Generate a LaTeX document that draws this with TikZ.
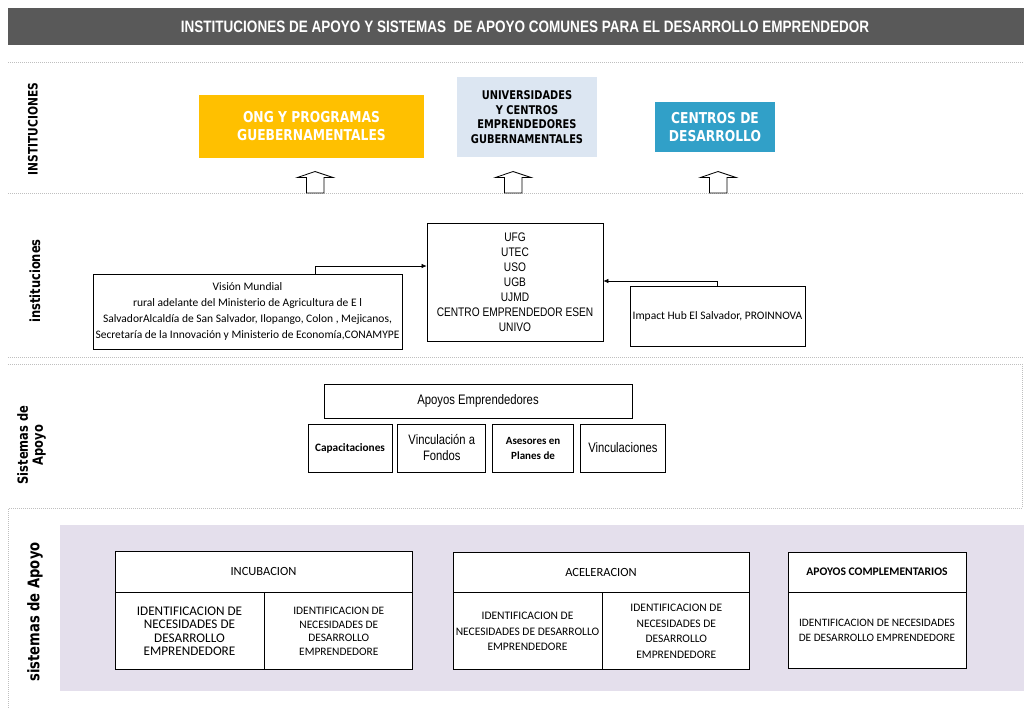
\documentclass[tikz,border=0pt]{standalone}
\usepackage{fontspec}
\setmainfont{Carlito}
\newfontfamily\narrowfont{Liberation Sans}[FakeStretch=0.82]
\newfontfamily\tahomafont{DejaVu Sans}[FakeStretch=0.82]
\usetikzlibrary{positioning,arrows.meta}
\definecolor{barGray}{HTML}{595959}
\definecolor{ongYellow}{HTML}{FFC000}
\definecolor{uniBlue}{HTML}{DCE6F2}
\definecolor{centroBlue}{HTML}{31A0C8}
\definecolor{lavender}{HTML}{E4DFEC}
\definecolor{dotGray}{HTML}{BFBFBF}
\tikzset{InstBox/.style={%
    shape=rectangle,%
    draw=none,%
    align=center,%
    inner sep=0pt,%
}}
\tikzset{ListBox/.style={%
    shape=rectangle,%
    draw=black,%
    fill=white,%
    line width=0.8pt,%
    align=center,%
    inner sep=1pt,%
}}
\tikzset{SideLabel/.style={%
    rotate=90,%
    align=center,%
    inner sep=0pt,%
}}
\tikzset{SectionLine/.style={%
    draw=dotGray,%
    line width=0.8pt,%
    dash pattern=on 1pt off 1pt,%
}}
\tikzset{BlockArrow/.style={%
    draw=black,%
    fill=white,%
    line width=0.8pt,%
}}
\tikzset{LinkEdge/.style={%
    -{Latex[length=5pt,width=4.5pt]},%
    line width=0.6pt,%
}}
\NewDocumentCommand{\fs}{m m}{\fontsize{#1}{#2}\selectfont}
\begin{document}
\begin{tikzpicture}[x=1pt,y=-1pt]
    \useasboundingbox (0,0) rectangle (1024,709);
    % title
    \fill[barGray] (8,8) rectangle (1024,45);
    \node[InstBox, text=white, font=\narrowfont\bfseries\fs{16.5}{18}] (title) at (525,27)
        {INSTITUCIONES DE APOYO Y SISTEMAS \ DE APOYO COMUNES PARA EL DESARROLLO EMPRENDEDOR};

    % section frames
    \draw[SectionLine] (8,62) -- (1024,62);
    \draw[SectionLine] (8,193) -- (1024,193);
    \draw[SectionLine] (8,357) -- (1024,357);
    \draw[SectionLine] (8,364) -- (1022,364) -- (1022,508) -- (8,508);
    \draw[SectionLine] (8,509) -- (8,709);
    \fill[lavender] (60,525) rectangle (1024,691);

    % side labels
    \node[SideLabel, font=\tahomafont\bfseries\fs{13}{15}] (labInst) at (33,129) {INSTITUCIONES};
    \node[SideLabel, font=\tahomafont\bfseries\fs{14}{16}] (labInstLow) at (35,281) {instituciones};
    \node[SideLabel, font=\tahomafont\bfseries\fs{14}{15}] (labSist) at (31.5,445) {Sistemas de\\Apoyo};
    \node[SideLabel, font=\tahomafont\bfseries\fs{16}{18}] (labSistLow) at (35,612) {sistemas de Apoyo};

    % institutions
    \node[InstBox, fill=ongYellow, text=white, minimum width=225, minimum height=63,
        font=\tahomafont\bfseries\fs{15}{18}] (ong) at (311.5,126.5) {ONG Y PROGRAMAS\\GUEBERNAMENTALES};
    \node[InstBox, fill=uniBlue, minimum width=140, minimum height=80,
        font=\tahomafont\bfseries\fs{12}{14.5}] (uni) at (527,117) {UNIVERSIDADES\\Y CENTROS\\EMPRENDEDORES\\GUBERNAMENTALES};
    \node[InstBox, fill=centroBlue, text=white, minimum width=120, minimum height=50,
        font=\tahomafont\bfseries\fs{15}{18}] (cen) at (715,127) {CENTROS DE\\DESARROLLO};
    \foreach \ax in {315,513,718}
        \draw[BlockArrow] (\ax-17.5,177.5) -- (\ax,171.5) -- (\ax+18,177.5) -- (\ax+9,177.5)
            -- (\ax+9,193) -- (\ax-8.5,193) -- (\ax-8.5,177.5) -- cycle;

    \node[ListBox, minimum width=309, minimum height=75, font=\fs{11.5}{16}] (vm) at (247.5,311.5)
        {Visión Mundial\\rural adelante del Ministerio de Agricultura de E l\\SalvadorAlcaldía de San Salvador, Ilopango, Colon , Mejicanos,\\Secretaría de la Innovación y Ministerio de Economía,CONAMYPE};
    \node[ListBox, minimum width=176, minimum height=118, font=\narrowfont\fs{12.4}{15}] (ufg) at (515,282)
        {UFG\\UTEC\\USO\\UGB\\UJMD\\CENTRO EMPRENDEDOR ESEN\\UNIVO};
    \node[ListBox, minimum width=175, minimum height=60, font=\fs{11.5}{13}] (imp) at (717.5,316)
        {Impact Hub El Salvador, PROINNOVA};
    \draw[LinkEdge] ([xshift=67.5pt]vm.north) |- ([yshift=16pt]ufg.west);
    \draw[LinkEdge] (imp.north) |- ([yshift=1pt]ufg.east);

    % support systems
    \node[ListBox, minimum width=308, minimum height=34, font=\narrowfont\fs{13.8}{15}] (apo) at (478,401) {Apoyos Emprendedores};
    \node[ListBox, minimum width=84, minimum height=48, font=\bfseries\fs{11.3}{14}] (cap) at (350,448) {Capacitaciones};
    \node[ListBox, minimum width=88, minimum height=48, font=\narrowfont\fs{13.7}{16}, right=5pt of cap] (vinf) {Vinculación a\\Fondos};
    \node[ListBox, minimum width=81, minimum height=48, font=\bfseries\fs{11}{15}, right=6pt of vinf] (ase) {Asesores en\\Planes de};
    \node[ListBox, minimum width=85, minimum height=48, font=\narrowfont\fs{13.7}{16}, right=6pt of ase] (vinc) {Vinculaciones};

    % incubation / acceleration
    \node[ListBox, minimum width=297, minimum height=41, font=\fs{12.5}{14}] (incHead) at (263.5,571.5) {INCUBACION};
    \node[ListBox, minimum width=149, minimum height=77, font=\fs{13.2}{13.5}, anchor=north west] (incLeft) at (incHead.south west)
        {IDENTIFICACION DE\\NECESIDADES DE\\DESARROLLO\\EMPRENDEDORE};
    \node[ListBox, minimum width=148, minimum height=77, font=\fs{11.4}{13.8}, right=0pt of incLeft] (incRight)
        {IDENTIFICACION DE\\NECESIDADES DE\\DESARROLLO\\EMPRENDEDORE};

    \node[ListBox, minimum width=296, minimum height=40, font=\fs{12.5}{14}] (acHead) at (601,572) {ACELERACION};
    \node[ListBox, minimum width=149, minimum height=77, font=\fs{11.5}{15.5}, anchor=north west] (acLeft) at (acHead.south west)
        {IDENTIFICACION DE\\NECESIDADES DE DESARROLLO\\EMPRENDEDORE};
    \node[ListBox, minimum width=147, minimum height=77, font=\fs{11.5}{15.5}, right=0pt of acLeft] (acRight)
        {IDENTIFICACION DE\\NECESIDADES DE\\DESARROLLO\\EMPRENDEDORE};

    \node[ListBox, minimum width=178, minimum height=40, font=\bfseries\fs{11.6}{13}] (compHead) at (877,572) {APOYOS COMPLEMENTARIOS};
    \node[ListBox, minimum width=178, minimum height=76, font=\fs{11.3}{15}, below=0pt of compHead] (compBody)
        {IDENTIFICACION DE NECESIDADES\\DE DESARROLLO EMPRENDEDORE};
\end{tikzpicture}
\end{document}
